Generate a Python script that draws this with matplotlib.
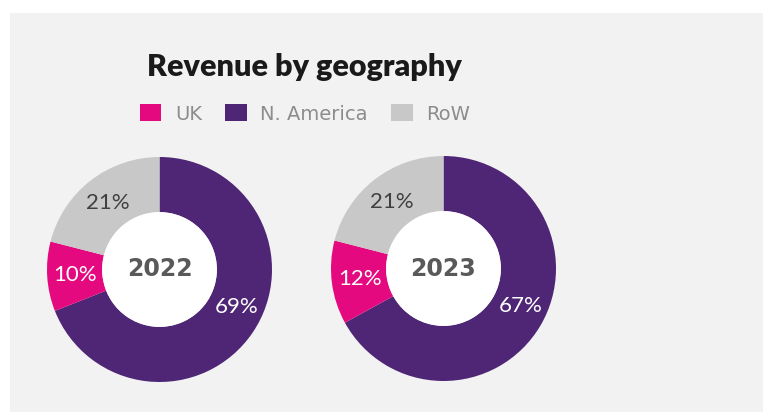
import numpy as np
import matplotlib.pyplot as plt
from matplotlib.patches import Patch, Circle

# data
regions = ['N. America', 'UK', 'RoW']
legend_order = ['UK', 'N. America', 'RoW']
years = ['2022', '2023']
share_2022 = [69, 10, 21]
share_2023 = [67, 12, 21]
colors = {'UK': '#E5097F', 'N. America': '#4F2675', 'RoW': '#C8C8C8'}
label_colors = {'UK': 'white', 'N. America': 'white', 'RoW': '#404040'}

W, H = 763, 412
fig = plt.figure(figsize=(W / 100, H / 100), dpi=100)
fig.patch.set_facecolor('white')

# grey panel
bg = fig.add_axes([10 / W, 0, 1 - 10 / W, 1 - 13 / H])
bg.set_facecolor('#F2F2F2')
bg.set_xticks([])
bg.set_yticks([])
for s in bg.spines.values():
    s.set_visible(False)

fig.text(304.5 / W, 1 - 67 / H, 'Revenue by geography', ha='center', va='center',
         fontsize=22, fontweight='heavy', color='#1A1A1A', family=['Lato', 'DejaVu Sans'])

handles = [Patch(facecolor=colors[r], edgecolor='none') for r in legend_order]
leg = fig.legend(handles, legend_order, loc='center', bbox_to_anchor=(305 / W, 1 - 114 / H),
                 ncol=3, frameon=False, fontsize=14, handlelength=1.1, handleheight=0.95,
                 handletextpad=0.7, columnspacing=1.2, labelcolor='#8C8C8C')

centers = [(159.5, 269.5), (443.5, 268.5)]
R = 112.5
for year, vals, (cx, cy) in zip(years, [share_2022, share_2023], centers):
    ax = fig.add_axes([(cx - R) / W, 1 - (cy + R) / H, 2 * R / W, 2 * R / H])
    wedges, texts, autotexts = ax.pie(
        vals, colors=[colors[r] for r in regions], startangle=90, counterclock=False,
        radius=1, wedgeprops=dict(width=0.49, edgecolor='none'),
        autopct='%d%%', pctdistance=0.75,
        textprops=dict(fontsize=16, family=['Lato', 'DejaVu Sans'], fontweight='normal'))
    for r, t in zip(regions, autotexts):
        t.set_color(label_colors[r])
    # excel pushes the big slice label up a bit
    ang = np.deg2rad(-26)
    autotexts[0].set_position((0.76 * np.cos(ang), 0.76 * np.sin(ang)))
    ax.add_patch(Circle((0, 0), 0.51, facecolor='white', edgecolor='none'))
    ax.text(0, 0, year, ha='center', va='center', fontsize=17, fontweight='bold',
            color='#595959')
    ax.set_xlim(-1, 1)
    ax.set_ylim(-1, 1)
    ax.axis('off')

plt.savefig('out.png', dpi=100)
